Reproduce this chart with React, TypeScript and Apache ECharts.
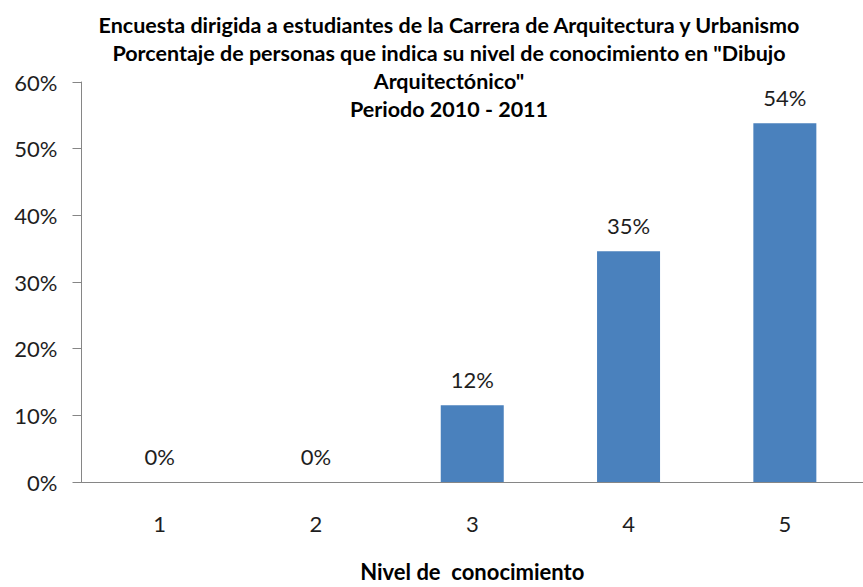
import React, { useEffect, useRef } from "react";
import * as echarts from "echarts";

const titleLines = [
  "Encuesta dirigida a estudiantes de la Carrera de Arquitectura y Urbanismo",
  "Porcentaje de personas que indica su nivel de conocimiento en \"Dibujo",
  "Arquitectónico\"",
  "Periodo 2010 - 2011",
];
const categories = ["1", "2", "3", "4", "5"];
const values = [0, 0, 11.5, 34.6, 53.8];
const xAxisName = "Nivel de  conocimiento";
const yMax = 60;
const yInterval = 10;

export default function App() {
  const ref = useRef<HTMLDivElement>(null);
  useEffect(() => {
    if (!ref.current) return;
    const chart = echarts.init(ref.current, undefined, { renderer: "svg" });
    const font = "Lato, 'Open Sans', sans-serif";
    chart.setOption({
      animation: false,
      backgroundColor: "#ffffff",
      textStyle: { fontFamily: font },
      title: {
        text: titleLines.join("\n"),
        left: 444,
        top: 6,
        textAlign: "center",
        textStyle: {
          fontFamily: font,
          fontSize: 21.5,
          fontWeight: "bold",
          color: "#000",
          lineHeight: 28,
        },
      },
      grid: { left: 81.5, top: 82, width: 792, height: 401, containLabel: false },
      xAxis: {
        type: "category",
        data: categories,
        name: xAxisName,
        nameLocation: "middle",
        nameGap: 78,
        nameTextStyle: {
          fontFamily: font,
          fontSize: 22,
          fontWeight: "bold",
          color: "#000",
        },
        axisLine: { lineStyle: { color: "#868686", width: 1 } },
        axisTick: { show: false },
        axisLabel: { fontSize: 22, color: "#1e1e1e", margin: 30 },
      },
      yAxis: {
        type: "value",
        min: 0,
        max: yMax,
        interval: yInterval,
        axisLine: { show: true, lineStyle: { color: "#868686", width: 1 } },
        axisTick: { show: true, length: 9, lineStyle: { color: "#868686" } },
        splitLine: { show: false },
        axisLabel: {
          fontSize: 22,
          color: "#1e1e1e",
          margin: 24,
          formatter: (v: number) => v + "%",
        },
      },
      series: [
        {
          type: "bar",
          data: values,
          barWidth: 63,
          itemStyle: { color: "#4A81BD" },
          label: {
            show: true,
            position: "top",
            distance: 15,
            fontSize: 22,
            color: "#1e1e1e",
            formatter: (p: any) => Math.round(p.value) + "%",
          },
        },
      ],
    });
    return () => chart.dispose();
  }, []);
  return (
    <div
      ref={ref}
      style={{ position: "fixed", left: 0, top: 0, width: 863, height: 587 }}
    />
  );
}
